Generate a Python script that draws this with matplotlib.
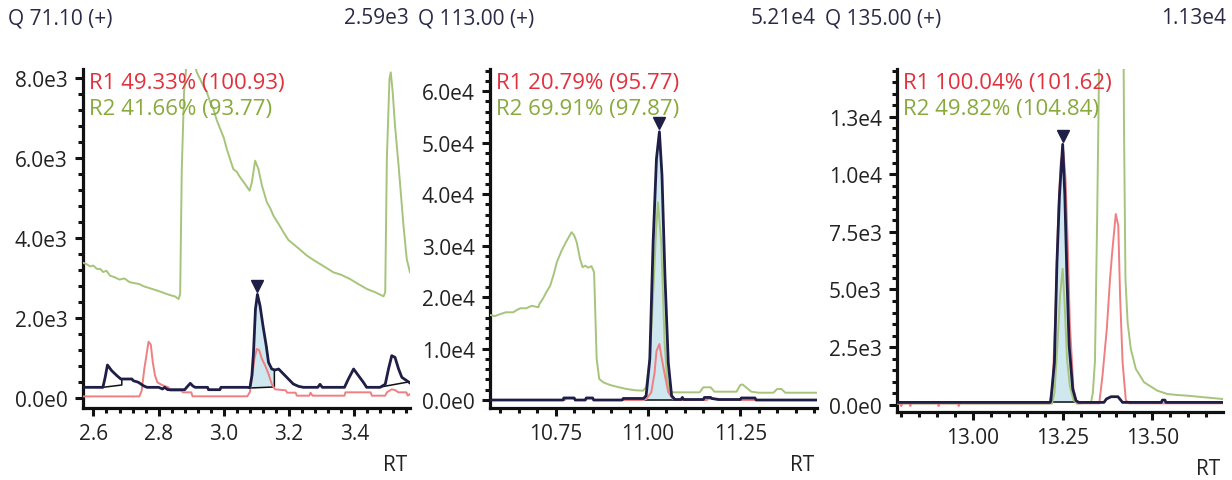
import matplotlib
matplotlib.use("Agg")
import matplotlib.pyplot as plt
import matplotlib.transforms as mtransforms
from matplotlib.ticker import FixedLocator, MultipleLocator
import numpy as np

plt.rcParams['font.family'] = ['Open Sans', 'DejaVu Sans']

# ---------------- text ----------------
titles = ["Q 71.10 (+)", "Q 113.00 (+)", "Q 135.00 (+)"]
max_labels = ["2.59e3", "5.21e4", "1.13e4"]
r1_labels = ["R1 49.33% (100.93)", "R1 20.79% (95.77)", "R1 100.04% (101.62)"]
r2_labels = ["R2 41.66% (93.77)", "R2 69.91% (97.87)", "R2 49.82% (104.84)"]
x_label = "RT"

# ---------------- panel 1 : Q 71.10 ----------------
p1_main_rt = [2.568, 2.629, 2.636, 2.643, 2.656, 2.672, 2.684, 2.718, 2.722, 2.738,
              2.753, 2.764, 2.800, 2.812, 2.818, 2.828, 2.880, 2.886, 2.897, 2.905,
              2.912, 2.950, 2.953, 2.988, 2.991, 3.070, 3.080, 3.086, 3.091, 3.097,
              3.103, 3.111, 3.120, 3.130, 3.137, 3.147, 3.157, 3.168, 3.183, 3.198,
              3.213, 3.229, 3.244, 3.288, 3.295, 3.302, 3.370, 3.382, 3.398, 3.413,
              3.428, 3.438, 3.479, 3.495, 3.505, 3.515, 3.525, 3.536, 3.546, 3.561, 3.571]
p1_main_i = [267, 267, 517, 825, 683, 558, 475, 475, 433, 392,
             308, 267, 267, 225, 267, 208, 208, 267, 367, 300,
             267, 267, 208, 208, 267, 267, 260, 558, 1142, 2225,
             2590, 2308, 1808, 1308, 892, 725, 700, 725, 600, 475,
             350, 292, 267, 267, 342, 267, 267, 475, 725, 558,
             392, 267, 267, 342, 725, 1058, 1017, 725, 517, 433, 375]

p1_r1_rt = [2.568, 2.741, 2.748, 2.756, 2.764, 2.769, 2.776, 2.782, 2.789, 2.796,
            2.810, 2.830, 2.836, 2.870, 2.874, 2.900, 2.904, 3.072, 3.080, 3.088,
            3.094, 3.101, 3.108, 3.117, 3.127, 3.137, 3.147, 3.157, 3.190, 3.194,
            3.220, 3.224, 3.262, 3.266, 3.272, 3.370, 3.373, 3.450, 3.454, 3.495,
            3.500, 3.515, 3.525, 3.535, 3.560, 3.564, 3.571]
p1_r1_i = [40, 40, 183, 725, 1142, 1408, 1333, 892, 558, 392,
           325, 267, 183, 183, 142, 142, 42, 42, 150, 600,
           1000, 1225, 1200, 975, 808, 600, 350, 217, 192, 133,
           133, 58, 58, 133, 58, 58, 142, 142, 58, 58,
           142, 217, 200, 142, 142, 58, 100]

p1_r2_rt = [2.568, 2.578, 2.590, 2.600, 2.610, 2.621, 2.630, 2.640, 2.651, 2.665,
            2.680, 2.695, 2.710, 2.723, 2.740, 2.755, 2.774, 2.790, 2.805, 2.825,
            2.840, 2.850, 2.861, 2.866, 2.871, 2.878, 2.886, 2.895, 2.905, 2.917,
            2.927, 2.937, 2.948, 2.958, 2.968, 2.978, 2.989, 3.000, 3.009, 3.020,
            3.029, 3.040, 3.050, 3.065, 3.079, 3.086, 3.096, 3.106, 3.117, 3.132,
            3.142, 3.152, 3.168, 3.183, 3.198, 3.213, 3.235, 3.255, 3.275, 3.295,
            3.315, 3.336, 3.360, 3.387, 3.410, 3.439, 3.465, 3.490, 3.495, 3.500,
            3.508, 3.512, 3.518, 3.525, 3.536, 3.551, 3.561, 3.571]
p1_r2_i = [3380, 3350, 3290, 3310, 3230, 3225, 3150, 3180, 3058, 3020,
           2960, 2990, 2900, 2875, 2850, 2790, 2742, 2700, 2660, 2600,
           2560, 2540, 2475, 2600, 5725, 7642, 8400, 8600, 8500, 8142,
           7975, 7800, 7642, 7400, 7225, 6950, 6725, 6500, 6225, 5950,
           5725, 5650, 5517, 5350, 5183, 5392, 5933, 5725, 5308, 4892,
           4750, 4558, 4350, 4142, 3950, 3850, 3700, 3558, 3450, 3350,
           3250, 3142, 3080, 2975, 2860, 2725, 2640, 2542, 2642, 5975,
           7975, 8142, 7642, 6808, 5808, 4308, 3475, 3142]

# integration baselines (segments) and peak window
p1_base_rt = [[2.629, 2.687, 2.687], [3.078, 3.155, 3.155], [3.475, 3.571]]
p1_base_i = [[267, 325, 475], [250, 275, 700], [267, 408]]
p1_peak = [3.078, 3.155]

# ---------------- panel 2 : Q 113.00 ----------------
p2_main_rt = [10.572, 10.770, 10.772, 10.800, 10.803, 10.830, 10.833, 10.850, 10.853, 10.930,
              10.933, 10.988, 10.995, 11.005, 11.014, 11.023, 11.031, 11.038, 11.046, 11.055,
              11.064, 11.073, 11.090, 11.093, 11.097, 11.150, 11.153, 11.170, 11.173, 11.190,
              11.250, 11.253, 11.290, 11.293, 11.458]
p2_main_i = [0, 0, 400, 400, 0, 0, 400, 400, 0, 0,
             300, 300, 840, 7970, 30650, 46840, 52100, 43600, 24160, 7330,
             840, 100, 100, 500, 100, 100, 500, 500, 300, 100,
             100, 400, 400, 0, 0]

p2_r1_rt = [10.572, 10.775, 10.778, 10.800, 10.803, 10.830, 10.833, 10.850, 10.853, 10.985,
            10.996, 11.009, 11.018, 11.023, 11.031, 11.036, 11.046, 11.055, 11.068, 11.080,
            11.160, 11.163, 11.190, 11.193, 11.458]
p2_r1_i = [0, 0, 300, 300, 0, 0, 300, 300, 0, 0,
           200, 1490, 5380, 9500, 10880, 8620, 4730, 1490, 200, 0,
           0, 250, 250, 0, 0]

p2_r2_rt = [10.572, 10.585, 10.600, 10.615, 10.635, 10.645, 10.654, 10.670, 10.685, 10.703,
            10.706, 10.716, 10.725, 10.735, 10.745, 10.753, 10.766, 10.780, 10.793, 10.800,
            10.807, 10.816, 10.823, 10.830, 10.838, 10.847, 10.854, 10.861, 10.868, 10.880,
            10.897, 10.920, 10.942, 10.965, 10.987, 10.995, 11.005, 11.014, 11.022, 11.027,
            11.036, 11.045, 11.052, 11.059, 11.070, 11.140, 11.150, 11.170, 11.180, 11.240,
            11.250, 11.256, 11.265, 11.280, 11.300, 11.340, 11.350, 11.362, 11.372, 11.458]
p2_r2_i = [16520, 16300, 16700, 17040, 17040, 17500, 17820, 17820, 18300, 18020,
           18660, 19760, 21000, 22200, 24500, 26760, 29020, 30960, 32600, 32000,
           30650, 27400, 25790, 26100, 25700, 26000, 24820, 7970, 4080, 3400,
           2920, 2500, 2140, 1900, 1810, 2500, 8000, 20270, 33000, 38400,
           30650, 11210, 4000, 1600, 1490, 1490, 2470, 2470, 1620, 1620,
           2900, 3030, 2500, 1620, 1420, 1420, 2140, 2140, 1420, 1420]

p2_base_rt = [[10.993, 11.072]]
p2_base_i = [[0, 0]]
p2_peak = [10.993, 11.072]

# ---------------- panel 3 : Q 135.00 ----------------
p3_main_rt = [12.788, 13.215, 13.217, 13.227, 13.234, 13.241, 13.250, 13.256, 13.262, 13.268,
              13.278, 13.287, 13.295, 13.365, 13.372, 13.385, 13.404, 13.417, 13.525, 13.528,
              13.535, 13.538, 13.697]
p3_main_i = [100, 100, 174, 1840, 6180, 9070, 11300, 9070, 5456, 2560,
             681, 174, 100, 100, 250, 347, 347, 100, 100, 200,
             200, 100, 100]

p3_r1_rt = [12.788, 12.798, 12.800, 12.803, 12.823, 12.825, 12.828, 12.902, 12.904, 12.907,
            12.958, 12.960, 12.963, 13.213, 13.222, 13.230, 13.238, 13.245, 13.252, 13.258,
            13.264, 13.270, 13.280, 13.290, 13.352, 13.361, 13.373, 13.382, 13.388, 13.398,
            13.405, 13.410, 13.417, 13.426, 13.435, 13.697]
p3_r1_i = [60, 60, -60, 60, 60, -60, 60, 60, -60, 60,
           60, -60, 60, 60, 800, 4000, 8500, 10600, 11000, 9800,
           7000, 3500, 700, 60, 60, 1260, 3286, 5456, 6614, 8277,
           7770, 4731, 1840, 200, 60, 60]

p3_r2_rt = [12.788, 13.220, 13.227, 13.235, 13.243, 13.250, 13.256, 13.262, 13.270, 13.280,
            13.290, 13.329, 13.334, 13.340, 13.346, 13.351, 13.356, 13.385, 13.415, 13.418,
            13.421, 13.425, 13.431, 13.440, 13.454, 13.477, 13.514, 13.542, 13.570, 13.598,
            13.645, 13.697]
p3_r2_i = [50, 50, 500, 2500, 4800, 5900, 4200, 2000, 800, 200,
           50, 100, 500, 1900, 8000, 14000, 25000, 45000, 30000, 20000,
           12000, 5456, 3576, 2417, 1550, 972, 608, 464, 420, 391,
           321, 247]

p3_base_rt = [[13.217, 13.290]]
p3_base_i = [[100, 100]]
p3_peak = [13.217, 13.290]

# ---------------- axes settings ----------------
xlims = [(2.568, 3.571), (10.572, 11.458), (12.788, 13.697)]
ylims = [(-250, 8225), (-1550, 64300), (-317, 14570)]
x_major = [[2.6, 2.8, 3.0, 3.2, 3.4], [10.75, 11.00, 11.25], [13.00, 13.25, 13.50]]
x_major_labels = [["2.6", "2.8", "3.0", "3.2", "3.4"], ["10.75", "11.00", "11.25"],
                  ["13.00", "13.25", "13.50"]]
x_minor_step = [0.04, 0.05, 0.05]
y_major = [[0, 2000, 4000, 6000, 8000],
           [0, 10000, 20000, 30000, 40000, 50000, 60000],
           [0, 2500, 5000, 7500, 10000, 12500]]
y_major_labels = [["0.0e0", "2.0e3", "4.0e3", "6.0e3", "8.0e3"],
                  ["0.0e0", "1.0e4", "2.0e4", "3.0e4", "4.0e4", "5.0e4", "6.0e4"],
                  ["0.0e0", "2.5e3", "5.0e3", "7.5e3", "1.0e4", "1.3e4"]]
y_minor_step = [400, 2000, 500]

# ---------------- colours ----------------
C_MAIN = '#1e1e46'
C_R1 = '#f07f82'
C_R2 = '#a7c47b'
C_FILL = '#cfe7ef'
C_R1_TXT = '#e2303c'
C_R2_TXT = '#88aa3c'
C_TITLE = '#2a2a48'
C_TICK = '#222222'

W, H = 1232, 481
fig = plt.figure(figsize=(W / 100, H / 100), dpi=100)

# pixel boxes (left, top, right, bottom)
boxes = [(83, 70, 410, 409), (490, 70, 817, 409), (897, 70, 1223, 413)]
cells = [(0, 409), (410, 816), (817, 1226)]

panels = [
    (p1_main_rt, p1_main_i, p1_r1_rt, p1_r1_i, p1_r2_rt, p1_r2_i, p1_base_rt, p1_base_i, p1_peak),
    (p2_main_rt, p2_main_i, p2_r1_rt, p2_r1_i, p2_r2_rt, p2_r2_i, p2_base_rt, p2_base_i, p2_peak),
    (p3_main_rt, p3_main_i, p3_r1_rt, p3_r1_i, p3_r2_rt, p3_r2_i, p3_base_rt, p3_base_i, p3_peak),
]

for k, (mrt, mi, r1rt, r1i, r2rt, r2i, brt, bi, peak) in enumerate(panels):
    l, t, r, b = boxes[k]
    ax = fig.add_axes([l / W, 1 - b / H, (r - l) / W, (b - t) / H])

    mrt_a = np.array(mrt)
    mi_a = np.array(mi, dtype=float)

    # peak area fill between trace and integration baseline
    seg_rt = np.array(brt[-1] if k > 0 else brt[1])
    seg_i = np.array(bi[-1] if k > 0 else bi[1], dtype=float)
    inside = (mrt_a > peak[0]) & (mrt_a < peak[1])
    fx = np.concatenate([[peak[0]], mrt_a[inside], [peak[1]]])
    fy = np.interp(fx, mrt_a, mi_a)
    fb = np.interp(fx, seg_rt[:2], seg_i[:2])
    ax.fill_between(fx, fb, fy, color=C_FILL, lw=0, zorder=1)

    for srt, si in zip(brt, bi):
        ax.plot(srt, si, color='#111111', lw=1.1, zorder=2)

    ax.plot(r2rt, r2i, color=C_R2, lw=1.4, zorder=3)
    ax.plot(r1rt, r1i, color=C_R1, lw=1.4, zorder=4)
    ax.plot(mrt, mi, color=C_MAIN, lw=2.0, zorder=5, solid_joinstyle='round')

    # apex marker
    j = int(np.argmax(mi_a))
    tr = mtransforms.offset_copy(ax.transData, fig=fig, x=0, y=6, units='points')
    ax.plot([mrt_a[j]], [mi_a[j]], marker='v', color=C_MAIN, markersize=9,
            transform=tr, zorder=6, clip_on=False)

    ax.set_xlim(*xlims[k])
    ax.set_ylim(*ylims[k])
    ax.xaxis.set_major_locator(FixedLocator(x_major[k]))
    ax.set_xticklabels(x_major_labels[k])
    ax.xaxis.set_minor_locator(MultipleLocator(x_minor_step[k]))
    ax.yaxis.set_major_locator(FixedLocator(y_major[k]))
    ax.set_yticklabels(y_major_labels[k])
    ax.yaxis.set_minor_locator(MultipleLocator(y_minor_step[k]))

    for s in ['top', 'right']:
        ax.spines[s].set_visible(False)
    for s in ['left', 'bottom']:
        ax.spines[s].set_linewidth(2.3)
        ax.spines[s].set_color('#111111')
    ax.tick_params(which='major', length=6, width=2.2, color='#111111',
                   labelsize=15, labelcolor=C_TICK, pad=5)
    ax.tick_params(which='minor', length=3.5, width=2.2, color='#111111')

    ax.annotate(x_label, xy=(1, 0), xycoords='axes fraction', xytext=(-3, -57),
                textcoords='offset pixels', ha='right', va='center',
                fontsize=15, color=C_TICK)

    ax.annotate(r1_labels[k], xy=(0, 1), xycoords='axes fraction', xytext=(6, -13),
                textcoords='offset pixels', ha='left', va='center',
                fontsize=16, color=C_R1_TXT, zorder=10)
    ax.annotate(r2_labels[k], xy=(0, 1), xycoords='axes fraction', xytext=(6, -39),
                textcoords='offset pixels', ha='left', va='center',
                fontsize=16, color=C_R2_TXT, zorder=10)

    cl, cr = cells[k]
    fig.text((cl + 8) / W, 1 - 18.5 / H, titles[k], ha='left', va='center',
             fontsize=15, color=C_TITLE)
    fig.text(cr / W, 1 - 18.5 / H, max_labels[k], ha='right', va='center',
             fontsize=15, color=C_TITLE)

fig.savefig('out.png', dpi=100)
